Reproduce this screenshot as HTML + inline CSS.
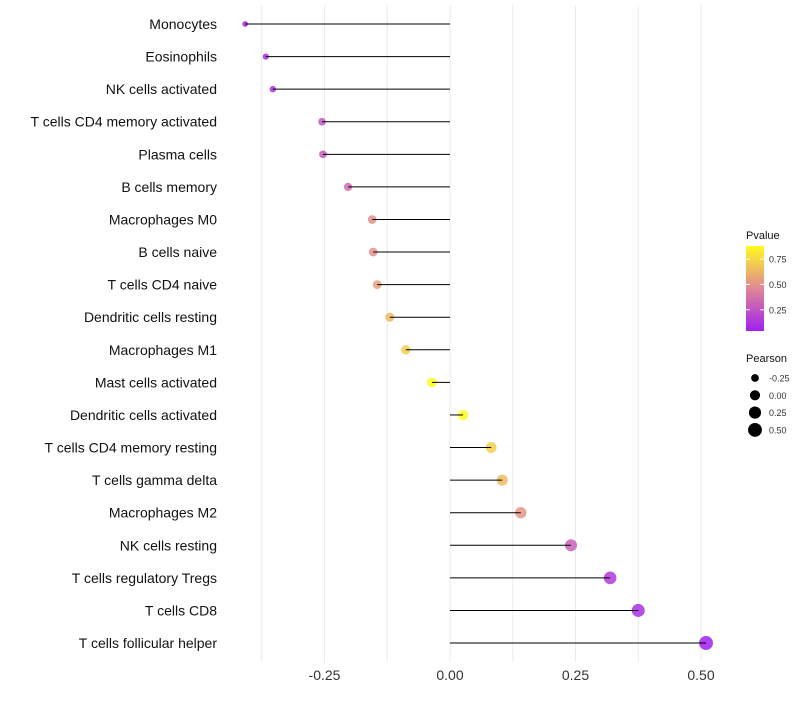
<!DOCTYPE html>
<html><head><meta charset="utf-8"><style>
body{margin:0;background:#fff;font-family:"Liberation Sans",sans-serif}
</style></head><body>
<svg id="chart" width="800" height="700"></svg>
<script>
const categories=["Monocytes","Eosinophils","NK cells activated","T cells CD4 memory activated","Plasma cells","B cells memory","Macrophages M0","B cells naive","T cells CD4 naive","Dendritic cells resting","Macrophages M1","Mast cells activated","Dendritic cells activated","T cells CD4 memory resting","T cells gamma delta","Macrophages M2","NK cells resting","T cells regulatory  Tregs","T cells CD8","T cells follicular helper"];
const pearson=[-0.408,-0.367,-0.353,-0.255,-0.253,-0.203,-0.155,-0.153,-0.145,-0.12,-0.088,-0.036,0.026,0.082,0.104,0.141,0.241,0.319,0.375,0.51];
const pvalue=[0.05,0.1,0.12,0.27,0.27,0.35,0.5,0.5,0.55,0.65,0.72,0.88,0.88,0.72,0.65,0.52,0.3,0.15,0.1,0.04];
const xTicks=[-0.25,0,0.25,0.5];
const xTickLabels=["-0.25","0.00","0.25","0.50"];
const colorTicks=[0.25,0.5,0.75];
const sizeTicks=[-0.25,0,0.25,0.5];
const NS="http://www.w3.org/2000/svg";
const svg=document.getElementById('chart');
function el(t,a,p){const e=document.createElementNS(NS,t);for(const k in a)e.setAttribute(k,a[k]);(p||svg).appendChild(e);return e;}
const x=v=>450+v*502;
const y=i=>24+i*32.58;
const r=v=>Math.sqrt(Math.max(4,26+44*v));
function lerp(a,b,t){return a.map((c,i)=>Math.round(c+(b[i]-c)*t));}
function col(p){const t=Math.max(0,Math.min(1,(p-0.04)/0.84));const s=[[160,32,240],[225,135,150],[255,250,30]];
 const c=t<0.5?lerp(s[0],s[1],t*2):lerp(s[1],s[2],(t-0.5)*2);return `rgb(${c})`;}
[-0.375,-0.25,-0.125,0,0.125,0.25,0.375,0.5].forEach(v=>{const g=el('line',{x1:x(v),x2:x(v),y1:5,y2:662,stroke:'#ebebeb','stroke-width':1});
});
xTicks.forEach((v,i)=>{const t=el('text',{x:x(v),y:680,'text-anchor':'middle','font-size':14,fill:'#333'});t.textContent=xTickLabels[i];
});
categories.forEach((c,i)=>{
 const t=el('text',{x:217,y:y(i)+5,'text-anchor':'end','font-size':14,fill:'#111'});t.textContent=c;
 
 const d=el('circle',{cx:x(pearson[i]),cy:y(i),r:r(pearson[i]),fill:col(pvalue[i]),'fill-opacity':0.85});
 
 const l=el('line',{x1:x(0),x2:x(pearson[i]),y1:y(i),y2:y(i),stroke:'#000','stroke-width':1});
 
});
const defs=el('defs',{});const lg=el('linearGradient',{id:'pg',x1:0,y1:1,x2:0,y2:0},defs);
for(let k=0;k<=10;k++){el('stop',{offset:k/10,'stop-color':col(0.04+0.84*k/10)},lg);}
const lt=el('text',{x:746,y:239,'font-size':11,fill:'#111'});lt.textContent='Pvalue';

const cb=el('rect',{x:746,y:246,width:18,height:85,fill:'url(#pg)'});

colorTicks.forEach(v=>{const yy=331-(v-0.04)/0.84*85;
 el('line',{x1:746,x2:750,y1:yy,y2:yy,stroke:'#fff'});el('line',{x1:760,x2:764,y1:yy,y2:yy,stroke:'#fff'});
 const t=el('text',{x:769,y:yy+3.5,'font-size':9,fill:'#333'});t.textContent=v.toFixed(2);
 });
const st=el('text',{x:746,y:362,'font-size':11,fill:'#111'});st.textContent='Pearson';

sizeTicks.forEach((v,i)=>{const yy=378+i*17.3;
 const c=el('circle',{cx:755,cy:yy,r:r(v),fill:'#000'});
 const t=el('text',{x:769,y:yy+3.5,'font-size':9,fill:'#333'});t.textContent=v.toFixed(2);
 });
</script>
</body></html>
